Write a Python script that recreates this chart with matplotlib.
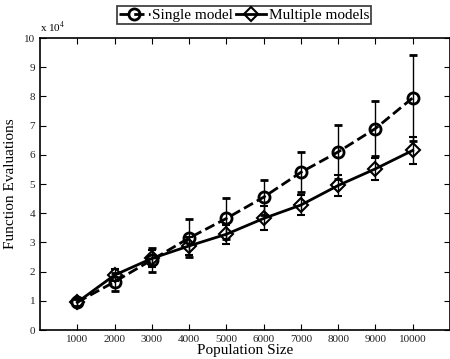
import matplotlib
matplotlib.use('Agg')
import matplotlib.pyplot as plt

plt.rcParams['font.family'] = ['Liberation Serif', 'DejaVu Serif']
plt.rcParams['mathtext.fontset'] = 'stix'

pop = [1000, 2000, 3000, 4000, 5000, 6000, 7000, 8000, 9000, 10000]
single = [0.95, 1.65, 2.40, 3.15, 3.82, 4.55, 5.40, 6.10, 6.90, 7.95]
single_err = [0.12, 0.30, 0.42, 0.65, 0.70, 0.60, 0.68, 0.92, 0.95, 1.47]
multi = [0.95, 1.88, 2.45, 2.88, 3.28, 3.82, 4.28, 4.95, 5.52, 6.15]
multi_err = [0.15, 0.20, 0.30, 0.31, 0.33, 0.41, 0.34, 0.37, 0.37, 0.45]

fig = plt.figure(figsize=(4.5, 3.59), dpi=100)
ax = fig.add_axes([40 / 450, 29 / 359, 410 / 450, 292 / 359])

eb1 = ax.errorbar(pop, single, yerr=single_err, color='black', linestyle='--', linewidth=2,
                  marker='o', markersize=8, markerfacecolor='none', markeredgewidth=2,
                  ecolor='black', elinewidth=1, capsize=3, label='Single model')
eb2 = ax.errorbar(pop, multi, yerr=multi_err, color='black', linestyle='-', linewidth=2,
                  marker='D', markersize=7, markerfacecolor='none', markeredgewidth=1.5,
                  ecolor='black', elinewidth=1, capsize=3, label='Multiple models')

ax.set_xlim(0, 11000)
ax.set_ylim(0, 10)
ax.set_xticks(pop)
ax.set_yticks(range(0, 11))
ax.tick_params(direction='in', top=True, right=True, labelsize=8, length=4,
               labelcolor='#222222')
for s in ax.spines.values():
    s.set_linewidth(1.2)

ax.set_xlabel('Population Size', fontsize=11, labelpad=0)
ax.set_ylabel('Function Evaluations', fontsize=11, labelpad=5)
ax.text(0.0, 1.01, r'x 10$^4$', transform=ax.transAxes, fontsize=8, ha='left', va='bottom')

leg = fig.legend([eb1[0], eb2[0]], ['Single model', 'Multiple models'],
                 loc='center', bbox_to_anchor=(244 / 450, 1 - 15 / 359), ncol=2,
                 fontsize=11, frameon=True, fancybox=False, edgecolor='black',
                 handlelength=2.0, columnspacing=0.2, handletextpad=0.15,
                 borderpad=0.15, borderaxespad=0)
leg.get_frame().set_linewidth(1.2)

fig.savefig('out.png', dpi=100)
